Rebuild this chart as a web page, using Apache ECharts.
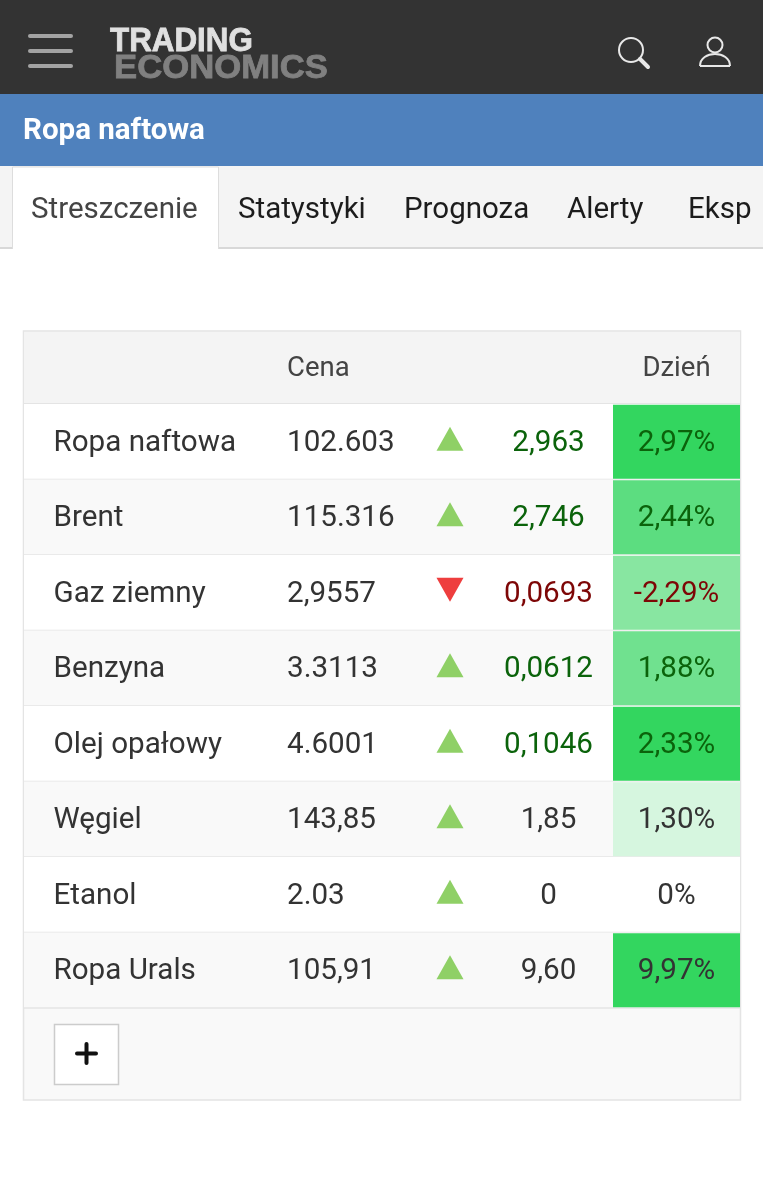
<!DOCTYPE html>
<html>
<head>
<meta charset="utf-8">
<title>Ropa naftowa</title>
<script src="https://cdn.jsdelivr.net/npm/echarts@6/dist/echarts.min.js"></script>
<style>
html, body { margin: 0; padding: 0; background: #fff; }
#chart { width: 763px; height: 1200px; }
</style>
</head>
<body>
<div id="chart"></div>
<script>
// table content
var commodities = ['Ropa naftowa', 'Brent', 'Gaz ziemny', 'Benzyna', 'Olej opałowy', 'Węgiel', 'Etanol', 'Ropa Urals'];
var prices = ['102.603', '115.316', '2,9557', '3.3113', '4.6001', '143,85', '2.03', '105,91'];
var directions = ['up', 'up', 'down', 'up', 'up', 'up', 'up', 'up'];
var changes = ['2,963', '2,746', '0,0693', '0,0612', '0,1046', '1,85', '0', '9,60'];
var changeTones = ['up', 'up', 'down', 'up', 'up', 'flat', 'flat', 'flat'];
var percents = ['2,97%', '2,44%', '-2,29%', '1,88%', '2,33%', '1,30%', '0%', '9,97%'];
var percentTones = ['up', 'up', 'down', 'up', 'up', 'flat', 'flat', 'flat'];
var heatLevels = [4, 3, 2, 2.5, 4, 1, 0, 4];
var headers = ['Cena', 'Dzień'];
var tabs = ['Streszczenie', 'Statystyki', 'Prognoza', 'Alerty', 'Eksp'];
var pageTitle = 'Ropa naftowa';

var FONT = 'Roboto';
var TONE_COLORS = { up: '#0b630b', down: '#7d0606', flat: '#333333' };
var HEAT_COLORS = { 0: 'transparent', 1: '#d6f6df', 2: '#88e6a1', 2.5: '#70e18f', 3: '#5cdd80', 4: '#33d65f' };
var TAB_LEFT = [31, 238, 404, 567, 688];

// x axis is in page pixels, so these are column positions
var COL_NAME = 53.5, COL_PRICE = 287, COL_ARROW = 450, COL_CHANGE = 548.5, COL_PCT = 676.5;
var TABLE_LEFT = 24, TABLE_RIGHT = 740, HEAT_LEFT = 613;

function points(x) {
	return commodities.map(function (name) { return [x, name]; });
}

function rowSeries() {
	return {
		type: 'custom',
		z: 2,
		silent: true,
		data: commodities.map(function (name) { return [TABLE_LEFT, name]; }),
		renderItem: function (params, api) {
			var c = api.coord([TABLE_LEFT, api.value(1)]);
			var e = api.coord([TABLE_RIGHT, api.value(1)]);
			var h = api.size([0, 1])[1];
			var top = c[1] - h / 2;
			return {
				type: 'group',
				children: [{
					type: 'rect',
					shape: { x: c[0], y: top, width: e[0] - c[0], height: h },
					style: { fill: params.dataIndex % 2 ? '#f9f9f9' : '#ffffff' }
				}, {
					type: 'rect',
					shape: { x: c[0], y: top + h - 0.75, width: e[0] - c[0], height: 1.5 },
					style: { fill: '#e4e4e4' }
				}]
			};
		}
	};
}

function heatSeries() {
	return {
		type: 'custom',
		z: 3,
		silent: true,
		data: commodities.map(function (name, i) { return [HEAT_LEFT, name, heatLevels[i]]; }),
		renderItem: function (params, api) {
			var c = api.coord([HEAT_LEFT, api.value(1)]);
			var e = api.coord([TABLE_RIGHT, api.value(1)]);
			var h = api.size([0, 1])[1];
			return {
				type: 'rect',
				shape: { x: c[0], y: c[1] - h / 2 + 0.75, width: e[0] - c[0], height: h - 1.5 },
				style: { fill: HEAT_COLORS[api.value(2)] }
			};
		}
	};
}

function textSeries(x, align, labels, colors) {
	return {
		type: 'custom',
		z: 4,
		silent: true,
		data: points(x),
		renderItem: function (params, api) {
			var c = api.coord([api.value(0), api.value(1)]);
			return {
				type: 'text',
				x: c[0],
				y: c[1] + 1.5,
				style: {
					text: labels[params.dataIndex],
					font: '29.6px ' + FONT,
					fill: colors ? colors[params.dataIndex] : '#333333',
					align: align,
					verticalAlign: 'middle'
				}
			};
		}
	};
}

function arrowSeries() {
	return {
		type: 'scatter',
		z: 4,
		silent: true,
		symbol: 'triangle',
		symbolSize: [27, 24],
		symbolOffset: [0, -3],
		data: commodities.map(function (name, i) {
			var up = directions[i] == 'up';
			return {
				value: [COL_ARROW, name],
				symbolRotate: up ? 0 : 180,
				itemStyle: { color: up ? '#8fd066' : '#ee3e3e', opacity: 1 }
			};
		})
	};
}

function tones(list) {
	return list.map(function (t) { return TONE_COLORS[t]; });
}

function chrome() {
	var items = [
		{ type: 'rect', z: 0, shape: { x: 0, y: 0, width: 763, height: 94 }, style: { fill: '#333333' } },
		{ type: 'rect', z: 0, shape: { x: 0, y: 94, width: 763, height: 72 }, style: { fill: '#4f81bd' } },
		{ type: 'rect', z: 0, shape: { x: 0, y: 166, width: 763, height: 82 }, style: { fill: '#f4f4f4' } },
		{ type: 'rect', z: 0, shape: { x: 0, y: 247, width: 763, height: 2 }, style: { fill: '#d8d8d8' } },
		{ type: 'rect', z: 1, shape: { x: 12.5, y: 167, width: 206, height: 84 }, style: { fill: '#ffffff', stroke: '#dddddd', lineWidth: 1 } },
		{ type: 'rect', z: 1, shape: { x: 0, y: 249, width: 763, height: 30 }, style: { fill: '#ffffff' } },
		// table frame, header and footer
		{ type: 'rect', z: 0, shape: { x: 23.5, y: 331, width: 717, height: 769 }, style: { fill: '#f9f9f9', stroke: '#e4e4e4', lineWidth: 1.5 } },
		{ type: 'rect', z: 1, shape: { x: 24, y: 332, width: 716, height: 71.5 }, style: { fill: '#f4f4f4' } },
		{ type: 'rect', z: 1, shape: { x: 24, y: 403, width: 716, height: 1.5 }, style: { fill: '#e4e4e4' } },
		{ type: 'rect', z: 1, shape: { x: 54.5, y: 1024.5, width: 64, height: 60 }, style: { fill: '#ffffff', stroke: '#cccccc', lineWidth: 1.5 } },
		{ type: 'line', z: 1, shape: { x1: 77, y1: 1053.5, x2: 96, y2: 1053.5 }, style: { stroke: '#111111', lineWidth: 4, lineCap: 'round' } },
		{ type: 'line', z: 1, shape: { x1: 86.5, y1: 1044, x2: 86.5, y2: 1063 }, style: { stroke: '#111111', lineWidth: 4, lineCap: 'round' } },
		// hamburger
		{ type: 'line', z: 1, shape: { x1: 30, y1: 36, x2: 71, y2: 36 }, style: { stroke: '#a3a3a3', lineWidth: 4, lineCap: 'round' } },
		{ type: 'line', z: 1, shape: { x1: 30, y1: 51, x2: 71, y2: 51 }, style: { stroke: '#a3a3a3', lineWidth: 4, lineCap: 'round' } },
		{ type: 'line', z: 1, shape: { x1: 30, y1: 66, x2: 71, y2: 66 }, style: { stroke: '#a3a3a3', lineWidth: 4, lineCap: 'round' } },
		// logo
		{ type: 'text', z: 1, x: 110, y: 42, scaleX: 0.95, style: { text: 'TRADING', font: 'bold 33px "Liberation Sans"', fill: '#e0e0e0', stroke: '#e0e0e0', lineWidth: 0.8, verticalAlign: 'middle' } },
		{ type: 'text', z: 1, x: 114, y: 69, scaleX: 1.02, style: { text: 'ECONOMICS', font: 'bold 34px "Liberation Sans"', fill: '#808080', stroke: '#808080', lineWidth: 0.8, verticalAlign: 'middle' } },
		// search icon
		{ type: 'circle', z: 1, shape: { cx: 631, cy: 50, r: 12 }, style: { fill: 'none', stroke: '#e8e8e8', lineWidth: 2 } },
		{ type: 'line', z: 1, shape: { x1: 640, y1: 59, x2: 648, y2: 67 }, style: { stroke: '#e8e8e8', lineWidth: 4, lineCap: 'round' } },
		// user icon
		{ type: 'circle', z: 1, shape: { cx: 715, cy: 45, r: 7.5 }, style: { fill: 'none', stroke: '#e8e8e8', lineWidth: 2 } },
		{ type: 'bezierCurve', z: 1, shape: { x1: 700, y1: 66, cpx1: 700, cpy1: 50, cpx2: 730, cpy2: 50, x2: 730, y2: 66 }, style: { fill: 'none', stroke: '#e8e8e8', lineWidth: 2 } },
		{ type: 'line', z: 1, shape: { x1: 700, y1: 66, x2: 730, y2: 66 }, style: { stroke: '#e8e8e8', lineWidth: 2 } },
		// page title
		{ type: 'text', z: 1, x: 23, y: 131.5, style: { text: pageTitle, font: 'bold 29.5px ' + FONT, fill: '#ffffff', verticalAlign: 'middle' } },
		// table header
		{ type: 'text', z: 2, x: COL_PRICE, y: 369, style: { text: headers[0], font: '27.5px ' + FONT, fill: '#444444', verticalAlign: 'middle' } },
		{ type: 'text', z: 2, x: COL_PCT, y: 369, style: { text: headers[1], font: '27.5px ' + FONT, fill: '#444444', align: 'center', verticalAlign: 'middle' } }
	];
	tabs.forEach(function (t, i) {
		items.push({
			type: 'text', z: 2, x: TAB_LEFT[i], y: 211,
			style: { text: t, font: '29.5px ' + FONT, fill: i == 0 ? '#444444' : '#1c1c1c', verticalAlign: 'middle' }
		});
	});
	return items;
}

var chart = echarts.init(document.getElementById('chart'), null, { renderer: 'canvas' });
chart.setOption({
	animation: false,
	backgroundColor: '#ffffff',
	graphic: { elements: chrome() },
	grid: { left: 0, right: 0, top: 404, height: 604 },
	xAxis: { type: 'value', min: 0, max: 763, show: false },
	yAxis: { type: 'category', data: commodities, inverse: true, show: false },
	series: [
		rowSeries(),
		heatSeries(),
		textSeries(COL_NAME, 'left', commodities),
		textSeries(COL_PRICE, 'left', prices),
		arrowSeries(),
		textSeries(COL_CHANGE, 'center', changes, tones(changeTones)),
		textSeries(COL_PCT, 'center', percents, tones(percentTones))
	]
});
</script>
</body>
</html>
